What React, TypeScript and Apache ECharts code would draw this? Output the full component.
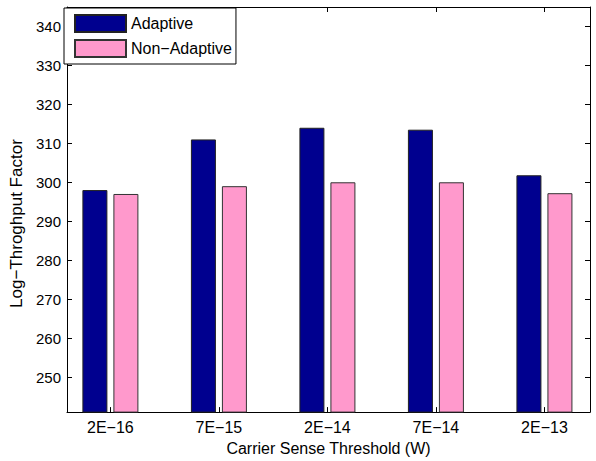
import React, { useEffect, useRef } from "react";
import * as echarts from "echarts";

const categories = ["2E\u221216", "7E\u221215", "2E\u221214", "7E\u221214", "2E\u221213"];
const adaptive = [298, 311, 314, 313.5, 301.8];
const nonAdaptive = [297, 299, 300, 300, 297.2];
const yTicks = [250, 260, 270, 280, 290, 300, 310, 320, 330, 340];
const seriesNames = ["Adaptive", "Non\u2212Adaptive"];

const FONT = "'Liberation Sans', Arial, Helvetica, sans-serif";

export default function App() {
  const ref = useRef<HTMLDivElement>(null);
  useEffect(() => {
    if (!ref.current) return;
    const chart = echarts.init(ref.current, null, { renderer: "svg" });
    const xPositions = categories.map((_, i) => i + 1);
    const axisLineStyle = { color: "#000", width: 1 };
    chart.setOption({
      animation: false,
      backgroundColor: "#fff",
      textStyle: { fontFamily: FONT },
      grid: { left: 67, right: 6, top: 7, bottom: 42, containLabel: false },
      legend: {
        orient: "vertical",
        left: 64,
        top: 8,
        padding: [6, 4, 6, 10],
        itemGap: 6,
        itemWidth: 51,
        itemHeight: 17,
        backgroundColor: "#fff",
        borderColor: "#000",
        borderWidth: 1,
        borderRadius: 0,
        icon: "rect",
        textStyle: { fontFamily: FONT, fontSize: 16, color: "#000" },
        data: seriesNames,
      },
      xAxis: [
        {
          type: "value",
          position: "bottom",
          min: 0.6,
          max: 5.42,
          name: "Carrier Sense Threshold (W)",
          nameLocation: "middle",
          nameGap: 24,
          nameTextStyle: { fontFamily: FONT, fontSize: 16, color: "#000" },
          axisLine: { show: true, lineStyle: axisLineStyle },
          axisTick: { show: true, inside: true, length: 5, customValues: xPositions, lineStyle: axisLineStyle },
          axisLabel: {
            customValues: xPositions,
            margin: 7,
            fontFamily: FONT,
            fontSize: 16,
            color: "#000",
            formatter: (v: number) => categories[Math.round(v) - 1] ?? "",
          },
          splitLine: { show: false },
        },
        {
          type: "value",
          position: "top",
          min: 0.6,
          max: 5.42,
          axisLine: { show: true, lineStyle: axisLineStyle },
          axisTick: { show: true, inside: true, length: 5, customValues: xPositions, lineStyle: axisLineStyle },
          axisLabel: { show: false },
          splitLine: { show: false },
        },
      ],
      yAxis: [
        {
          type: "value",
          position: "left",
          min: 241,
          max: 345,
          name: "Log\u2212Throghput Factor",
          nameLocation: "middle",
          nameGap: 37,
          nameTextStyle: { fontFamily: FONT, fontSize: 17, color: "#000", padding: [0, 28, 0, 0] },
          axisLine: { show: true, lineStyle: axisLineStyle },
          axisTick: { show: true, inside: true, length: 5, customValues: yTicks, lineStyle: axisLineStyle },
          axisLabel: { customValues: yTicks, margin: 6, fontFamily: FONT, fontSize: 15, color: "#000" },
          splitLine: { show: false },
        },
        {
          type: "value",
          position: "right",
          min: 241,
          max: 345,
          axisLine: { show: true, lineStyle: axisLineStyle },
          axisTick: { show: true, inside: true, length: 5, customValues: yTicks, lineStyle: axisLineStyle },
          axisLabel: { show: false },
          splitLine: { show: false },
        },
      ],
      series: [
        {
          name: seriesNames[0],
          type: "bar",
          xAxisIndex: 0,
          yAxisIndex: 0,
          barWidth: 25,
          barGap: "24%",
          itemStyle: { color: "#00008f", borderColor: "#222", borderWidth: 1 },
          data: adaptive.map((v, i) => [xPositions[i], v]),
        },
        {
          name: seriesNames[1],
          type: "bar",
          xAxisIndex: 0,
          yAxisIndex: 0,
          barWidth: 25,
          barGap: "24%",
          itemStyle: { color: "#ff99cc", borderColor: "#333", borderWidth: 1 },
          data: nonAdaptive.map((v, i) => [xPositions[i], v]),
        },
      ],
    });
    return () => chart.dispose();
  }, []);
  return (
    <div
      ref={ref}
      style={{ position: "fixed", left: 0, top: 0, width: 596, height: 461, background: "#fff" }}
    />
  );
}
